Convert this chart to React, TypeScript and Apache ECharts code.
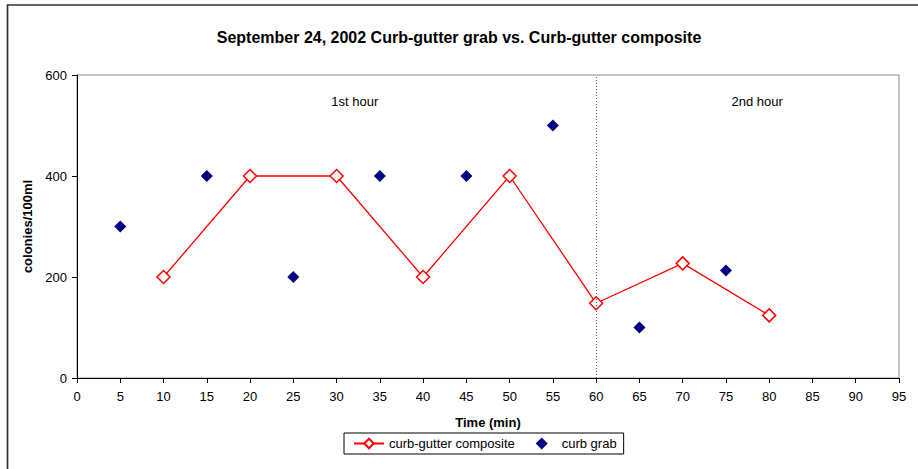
import React, { useEffect, useRef } from "react";
import * as echarts from "echarts";

const titleText = "September 24, 2002 Curb-gutter grab vs. Curb-gutter composite";
const xAxisName = "Time (min)";
const yAxisName = "colonies/100ml";

const compositeName = "curb-gutter composite";
const compositeTimes = [10, 20, 30, 40, 50, 60, 70, 80];
const compositeValues = [200, 400, 400, 200, 400, 148, 227, 124];

const grabName = "curb grab";
const grabTimes = [5, 15, 25, 35, 45, 55, 65, 75];
const grabValues = [300, 400, 200, 400, 400, 500, 100, 213];

const hourDividerTime = 60;
const annotationTexts = ["1st hour", "2nd hour"];
const annotationTimes = [32.1, 78.6];
const annotationValues = [547, 547];

const xMin = 0;
const xMax = 95;
const xInterval = 5;
const yMin = 0;
const yMax = 600;
const yInterval = 200;

const FONT = "Arial, 'Liberation Sans', sans-serif";
const DIAMOND_ICON = "path://M0,-1L1,0L0,1L-1,0Z";

export default function App() {
  const ref = useRef<HTMLDivElement>(null);

  useEffect(() => {
    if (!ref.current) return;
    const chart = echarts.init(ref.current, null, { renderer: "svg" });

    const option: any = {
      animation: false,
      backgroundColor: "#fff",
      textStyle: { fontFamily: FONT },
      title: {
        text: titleText,
        left: "center",
        top: 24,
        textStyle: { fontFamily: FONT, fontSize: 16, fontWeight: "bold", color: "#000" },
      },
      graphic: [
        {
          type: "rect",
          shape: { x: 7.5, y: 5, width: 1000, height: 1000 },
          style: { fill: "none", stroke: "#333", lineWidth: 1.7 },
          silent: true,
          z: 100,
        },
      ],
      legend: {
        data: [compositeName, { name: grabName, icon: DIAMOND_ICON }],
        left: 344,
        top: 433,
        orient: "horizontal",
        padding: [4, 7, 4, 9],
        itemGap: 21,
        itemWidth: 30,
        itemHeight: 12,
        symbolKeepAspect: true,
        borderColor: "#000",
        borderWidth: 1,
        textStyle: { fontFamily: FONT, fontSize: 13, color: "#000" },
      },
      grid: {
        left: 77,
        top: 75,
        right: 19,
        bottom: 91,
        show: true,
        borderColor: "#888",
        borderWidth: 1,
        containLabel: false,
        outerBoundsMode: "none",
      },
      xAxis: {
        type: "value",
        min: xMin,
        max: xMax,
        interval: xInterval,
        name: xAxisName,
        nameLocation: "middle",
        nameGap: 38,
        nameTextStyle: { fontFamily: FONT, fontSize: 13, fontWeight: "bold", color: "#000" },
        axisLine: { show: true, onZero: false, lineStyle: { color: "#000", width: 1 } },
        axisTick: { show: true, inside: false, length: 5, lineStyle: { color: "#000" } },
        axisLabel: { margin: 12, fontFamily: FONT, fontSize: 13, color: "#000" },
        splitLine: { show: false },
      },
      yAxis: {
        type: "value",
        min: yMin,
        max: yMax,
        interval: yInterval,
        name: yAxisName,
        nameLocation: "middle",
        nameGap: 43,
        nameTextStyle: { fontFamily: FONT, fontSize: 13, fontWeight: "bold", color: "#000" },
        axisLine: { show: true, lineStyle: { color: "#000", width: 1 } },
        axisTick: { show: true, inside: false, length: 5, lineStyle: { color: "#000" } },
        axisLabel: { margin: 10, fontFamily: FONT, fontSize: 13, color: "#000" },
        splitLine: { show: false },
      },
      series: [
        {
          name: compositeName,
          type: "line",
          data: compositeTimes.map((t, i) => [t, compositeValues[i]]),
          symbol: "diamond",
          symbolSize: 13,
          showAllSymbol: true,
          lineStyle: { color: "#ff0000", width: 1.3 },
          itemStyle: { color: "#fff", borderColor: "#ff0000", borderWidth: 1.5 },
          z: 3,
          markLine: {
            silent: true,
            symbol: ["none", "none"],
            label: { show: false },
            lineStyle: { color: "#666", type: [1, 2], width: 1 },
            data: [{ xAxis: hourDividerTime }],
          },
        },
        {
          name: grabName,
          type: "scatter",
          data: grabTimes.map((t, i) => [t, grabValues[i]]),
          symbol: "diamond",
          symbolSize: 12,
          itemStyle: { color: "#000080", opacity: 1 },
          z: 4,
          markPoint: {
            silent: true,
            symbol: "circle",
            symbolSize: 0,
            label: {
              show: true,
              position: "inside",
              formatter: (p: any) => p.name,
              fontFamily: FONT,
              fontSize: 13,
              color: "#000",
            },
            data: annotationTexts.map((txt, i) => ({
              name: txt,
              coord: [annotationTimes[i], annotationValues[i]],
            })),
          },
        },
      ],
    };

    chart.setOption(option);
    return () => chart.dispose();
  }, []);

  return (
    <div
      ref={ref}
      style={{ position: "fixed", left: 0, top: 0, width: 918, height: 469 }}
    />
  );
}
